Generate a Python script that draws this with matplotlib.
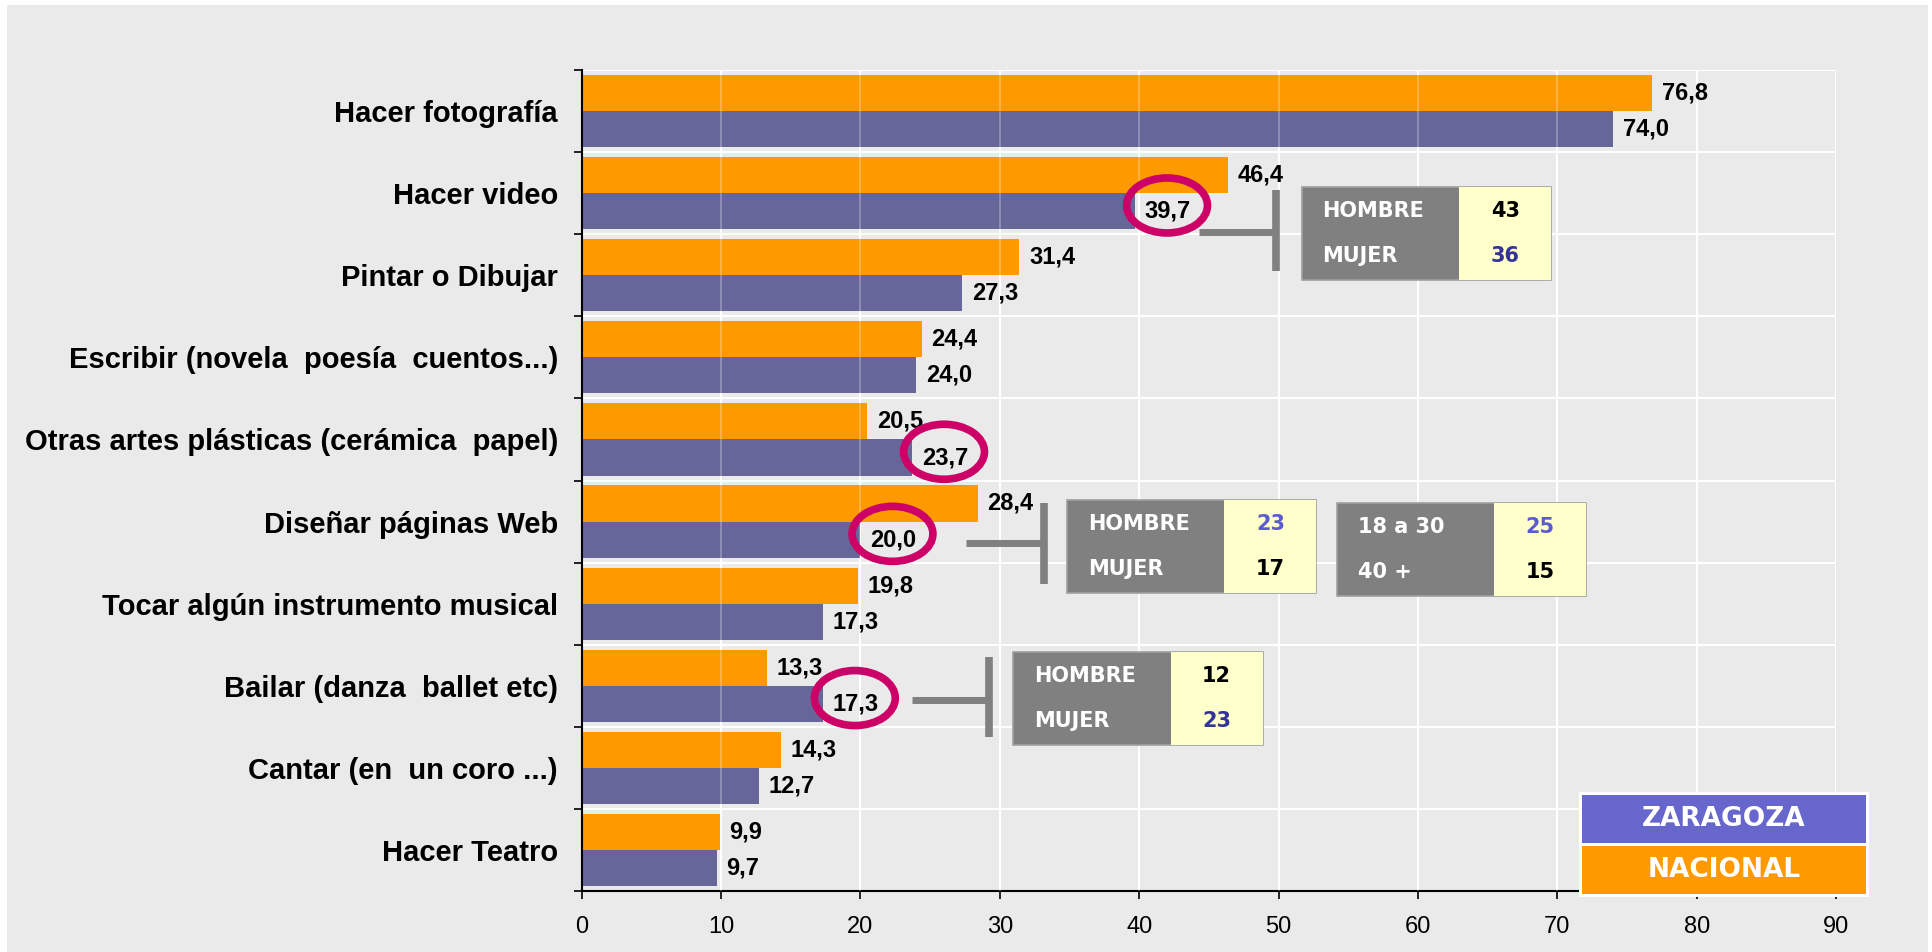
import numpy as np
import matplotlib
matplotlib.use('Agg')
import matplotlib.pyplot as plt
from matplotlib.patches import Rectangle, Ellipse
from matplotlib.lines import Line2D

# datos (top to bottom)
categorias = ['Hacer fotografía', 'Hacer video', 'Pintar o Dibujar',
              'Escribir (novela  poesía  cuentos...)',
              'Otras artes plásticas (cerámica  papel)',
              'Diseñar páginas Web', 'Tocar algún instrumento musical',
              'Bailar (danza  ballet etc)', 'Cantar (en  un coro ...)',
              'Hacer Teatro']
nacional = [76.8, 46.4, 31.4, 24.4, 20.5, 28.4, 19.8, 13.3, 14.3, 9.9]
zaragoza = [74.0, 39.7, 27.3, 24.0, 23.7, 20.0, 17.3, 17.3, 12.7, 9.7]
circulados = [1, 4, 5, 7]   # zaragoza labels with a red ring

# side boxes
caja_etiquetas = [['HOMBRE', 'MUJER'], ['HOMBRE', 'MUJER'],
                  ['18 a 30', '40 +'], ['HOMBRE', 'MUJER']]
caja_valores = [['43', '36'], ['23', '17'], ['25', '15'], ['12', '23']]
caja_colores = [['black', '#333399'], ['#5b5bd0', 'black'],
                ['#5b5bd0', 'black'], ['black', '#333399']]
caja_pos = [(51.66, 0.925), (34.82, 4.738), (54.18, 4.774), (30.96, 6.589)]

# connector brackets: horizontal x range, its y, vertical y range
con_x = [(44.3, 49.8), (27.6, 33.2), (23.7, 29.2)]
con_yh = [1.47, 5.26, 7.17]
con_yv = [(0.96, 1.95), (4.77, 5.76), (6.65, 7.62)]

NARANJA = '#ff9900'
MORADO = '#666699'
FONDO = '#eaeaea'
W, H = 1932, 952

fig = plt.figure(figsize=(W / 100, H / 100), dpi=100)
fig.patch.set_facecolor('white')
fig.patches.append(Rectangle((7 / W, 0), (1928 - 7) / W, (H - 5) / H,
                             transform=fig.transFigure, facecolor=FONDO,
                             edgecolor='none', zorder=-10))

ax = fig.add_axes([581.7 / W, 1 - 891 / H, (1836 - 581.7) / W, (891 - 70) / H])
ax.set_facecolor(FONDO)

n = len(categorias)
y = np.arange(n)
ax.barh(y - 0.22, nacional, height=0.44, color=NARANJA, zorder=2)
ax.barh(y + 0.22, zaragoza, height=0.44, color=MORADO, zorder=2)

ax.set_xlim(0, 90)
ax.set_ylim(n - 0.5, -0.5)
ax.set_xticks(range(0, 91, 10))
ax.set_yticks(y)
ax.set_yticklabels(categorias, family='Liberation Sans',
                   fontweight='bold', fontsize=21)
ax.set_yticks(np.arange(-0.5, n, 1), minor=True)
ax.tick_params(axis='y', which='major', length=0, pad=17)
ax.tick_params(axis='y', which='minor', length=6, width=1.2, direction='out')
ax.tick_params(axis='x', length=6, width=1.2, direction='out', pad=12,
               labelsize=17)
for lab in ax.get_xticklabels():
    lab.set_family('Liberation Sans')

ax.grid(which='minor', axis='y', color='white', lw=1.5, zorder=1)
ax.grid(which='major', axis='x', color='white', lw=1.5, zorder=1)
ax.set_axisbelow(True)
ax.vlines(range(10, 90, 10), -0.5, n - 0.5, color='white', lw=1.2,
          alpha=0.3, zorder=3)

for s in ['top', 'right']:
    ax.spines[s].set_visible(False)
ax.spines['left'].set_linewidth(1.5)
ax.spines['bottom'].set_linewidth(1.5)

def fmt(v):
    return f'{v:.1f}'.replace('.', ',')

for i in range(n):
    ax.annotate(fmt(nacional[i]), xy=(nacional[i], i - 0.22), xytext=(7, 0),
                textcoords='offset points', va='center', ha='left',
                fontsize=17, fontweight='bold', family='Liberation Sans', zorder=6)
    ax.annotate(fmt(zaragoza[i]), xy=(zaragoza[i], i + 0.22), xytext=(7, 0),
                textcoords='offset points', va='center', ha='left',
                fontsize=17, fontweight='bold', family='Liberation Sans', zorder=6)

for i in circulados:
    ax.add_patch(Ellipse((zaragoza[i] + 2.3, i + 0.15), 5.8, 0.67, fill=False,
                         edgecolor='#cc0066', lw=5.5, clip_on=False, zorder=7))

# brackets
for (x0, x1), yh, (v0, v1) in zip(con_x, con_yh, con_yv):
    ax.add_line(Line2D([x0, x1], [yh, yh], color='#808080', lw=5,
                       solid_capstyle='butt', clip_on=False, zorder=5))
    ax.add_line(Line2D([x1, x1], [v0, v1], color='#808080', lw=5.5,
                       solid_capstyle='butt', clip_on=False, zorder=5))

# boxes
gw, yw, bh = 11.3, 6.6, 1.133
for etiquetas, valores, colores, (x0, yt) in zip(caja_etiquetas, caja_valores,
                                                  caja_colores, caja_pos):
    ax.add_patch(Rectangle((x0, yt), gw + yw, bh, facecolor='#808080',
                           edgecolor='#a0a0a0', lw=1.2, clip_on=False, zorder=5))
    ax.add_patch(Rectangle((x0 + gw, yt), yw, bh, facecolor='#ffffcc',
                           edgecolor='none', clip_on=False, zorder=5))
    for k, fr in enumerate([0.26, 0.74]):
        ax.text(x0 + 1.5, yt + bh * fr, etiquetas[k], color='white',
                family='DejaVu Sans', fontweight='bold', fontsize=15,
                va='center', ha='left', zorder=6)
        ax.text(x0 + gw + yw / 2, yt + bh * fr, valores[k], color=colores[k],
                family='DejaVu Sans', fontweight='bold', fontsize=15,
                va='center', ha='center', zorder=6)

# legend
fig.patches.append(Rectangle((1579 / W, 1 - 897 / H), 290 / W, 105 / H,
                             transform=fig.transFigure, facecolor='white',
                             edgecolor='none', zorder=8))
for txt, col, top in [('ZARAGOZA', '#6666cc', 795), ('NACIONAL', NARANJA, 846)]:
    fig.patches.append(Rectangle((1582 / W, 1 - (top + 48) / H), 284 / W, 48 / H,
                                 transform=fig.transFigure, facecolor=col,
                                 edgecolor='none', zorder=9))
    fig.text((1582 + 142) / W, 1 - (top + 24) / H, txt, color='white',
             family='DejaVu Sans', fontweight='bold', fontsize=19,
             ha='center', va='center', zorder=10)

fig.savefig('out.png', dpi=100, facecolor=fig.get_facecolor())
